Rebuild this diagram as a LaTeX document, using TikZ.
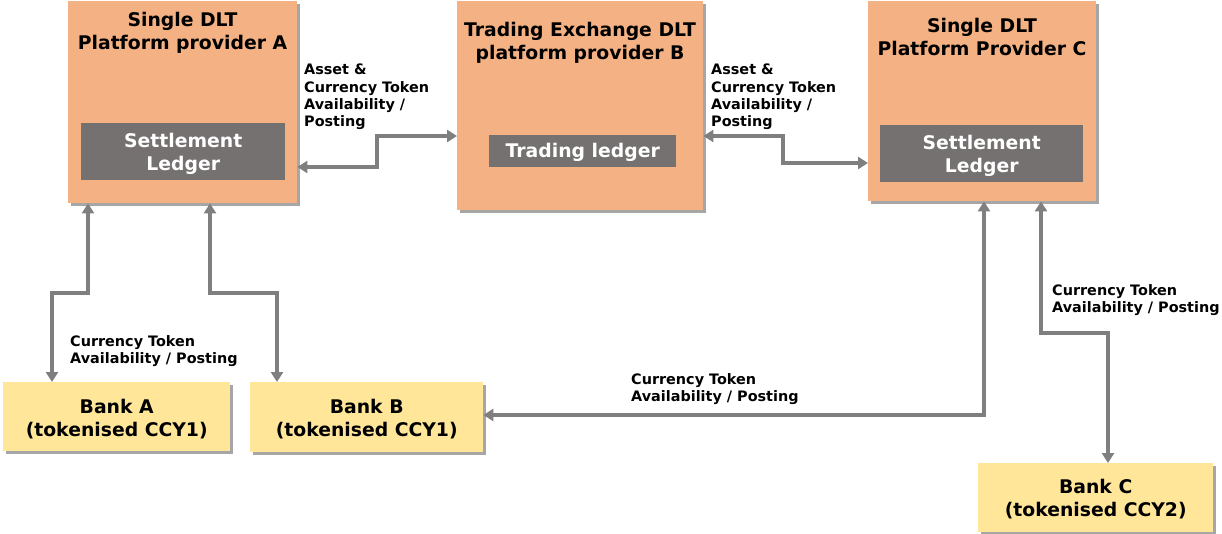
\documentclass[tikz,border=0pt]{standalone}
\usepackage{fontspec}
\setmainfont{DejaVu Sans}
\usetikzlibrary{arrows.meta,shadows}
\definecolor{provfill}{HTML}{F4B183}
\definecolor{ledgerfill}{HTML}{767171}
\definecolor{bankfill}{HTML}{FFE699}
\definecolor{conngray}{HTML}{7F7F7F}
\begin{document}
\begin{tikzpicture}[x=1pt,y=-1pt,
  shade box/.style={drop shadow={shadow xshift=2.5pt,shadow yshift=-2.5pt,opacity=0.35,fill=black}},
  provbox/.style={fill=provfill,draw=none,anchor=north west,inner sep=0pt,shade box},
  ledgerbox/.style={fill=ledgerfill,draw=none,anchor=north west,inner sep=0pt},
  bankbox/.style={fill=bankfill,draw=none,anchor=north west,inner sep=0pt,shade box},
  bigtext/.style={font=\fontsize{18.8}{23}\selectfont\bfseries,align=center,inner sep=0pt},
  whitetext/.style={bigtext,text=white},
  smalllabel/.style={font=\fontsize{14.4}{17.3}\selectfont\bfseries,align=left,inner sep=0pt,anchor=north west},
  conn/.style={draw=conngray,line width=3.6pt,arrows={Triangle[length=10pt,width=12pt]-Triangle[length=10pt,width=12pt]}},
]
\useasboundingbox (0,0) rectangle (1222,533);

% provider boxes
\node[provbox,minimum width=229pt,minimum height=202pt] (pa) at (68,1) {};
\node[provbox,minimum width=246pt,minimum height=209pt] (pb) at (457,1) {};
\node[provbox,minimum width=228pt,minimum height=200pt] (pc) at (868,1) {};

\node[bigtext,anchor=north] (pat) at (182.5,12) {Single DLT\\Platform provider A};
\node[bigtext,anchor=north] (pbt) at (580,22) {Trading Exchange DLT\\platform provider B};
\node[bigtext,anchor=north] (pct) at (982,18) {Single DLT\\Platform Provider C};

% ledgers
\node[ledgerbox,minimum width=204pt,minimum height=57pt] (la) at (81,123) {};
\node[ledgerbox,minimum width=187pt,minimum height=32pt] (lb) at (489,135) {};
\node[ledgerbox,minimum width=203pt,minimum height=57pt] (lc) at (880,125) {};
\node[whitetext] (lat) at ([yshift=-2pt]la.center) {Settlement\\Ledger};
\node[whitetext] (lbt) at ([yshift=-1.5pt]lb.center) {Trading ledger};
\node[whitetext] (lct) at ([yshift=-2pt]lc.center) {Settlement\\Ledger};

% banks
\node[bankbox,minimum width=227pt,minimum height=69pt] (ba) at (3,382) {};
\node[bankbox,minimum width=233pt,minimum height=70pt] (bb) at (250,382) {};
\node[bankbox,minimum width=235pt,minimum height=69pt] (bc) at (978,463) {};
\node[bigtext] (bat) at ([yshift=-2pt]ba.center) {Bank A\\(tokenised CCY1)};
\node[bigtext] (bbt) at ([yshift=-2pt]bb.center) {Bank B\\(tokenised CCY1)};
\node[bigtext] (bct) at ([yshift=-1pt]bc.center) {Bank C\\(tokenised CCY2)};

% labels
\node[smalllabel] (l1) at (304,64) {Asset \&\\Currency Token\\Availability /\\Posting};
\node[smalllabel] (l2) at (711,64) {Asset \&\\Currency Token\\Availability /\\Posting};
\node[smalllabel] (l3) at (70,335) {Currency Token\\Availability / Posting};
\node[smalllabel] (l4) at (631,373) {Currency Token\\Availability / Posting};
\node[smalllabel] (l5) at (1052,284) {Currency Token\\Availability / Posting};

% connector bends
\coordinate (ab1) at (377,167);
\coordinate (ab2) at (377,136);
\coordinate (bc1) at (783,136);
\coordinate (bc2) at (783,163);
\coordinate (aa1) at (88,293);
\coordinate (aa2) at (52,293);
\coordinate (ab3) at (210,293);
\coordinate (ab4) at (277,293);
\coordinate (cb1) at (984,415);
\coordinate (cc1) at (1041,333);
\coordinate (cc2) at (1108,333);

\draw[conn] (pa.east |- ab1) -- (ab1) -- (ab2) -- (pb.west |- ab2);
\draw[conn] (pb.east |- bc1) -- (bc1) -- (bc2) -- (pc.west |- bc2);
\draw[conn] (pa.south -| aa1) -- (aa1) -- (aa2) -- (ba.north -| aa2);
\draw[conn] (pa.south -| ab3) -- (ab3) -- (ab4) -- (bb.north -| ab4);
\draw[conn] (pc.south -| cb1) -- (cb1) -- (bb.east |- cb1);
\draw[conn] (pc.south -| cc1) -- (cc1) -- (cc2) -- (bc.north -| cc2);
\end{tikzpicture}
\end{document}
